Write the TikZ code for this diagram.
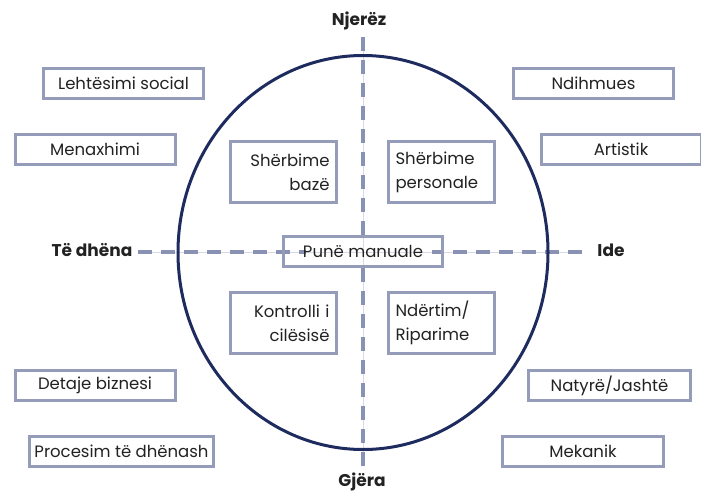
\documentclass[tikz,border=0pt]{standalone}
\usepackage{fontspec}
\setmainfont{Poppins}
\definecolor{boxline}{HTML}{959CBA}
\definecolor{axisline}{HTML}{8A92B4}
\definecolor{axisthin}{HTML}{D6D9E8}
\definecolor{ringline}{HTML}{1E2B5E}
\definecolor{textgray}{HTML}{222222}

\begin{document}
\begin{tikzpicture}[x=1pt,y=-1pt,
    boxstyle/.style={draw=boxline, line width=3pt, fill=white, minimum width=160pt, minimum height=30pt, inner sep=2pt, text=textgray, font=\fontsize{16.5}{24}\selectfont},
    quadright/.style={boxstyle, minimum width=106pt, minimum height=61pt, text width=92pt, align=right},
    quadleft/.style={boxstyle, minimum width=106pt, minimum height=61pt, text width=92pt, align=left},
    axislabel/.style={text=textgray, font=\fontsize{17}{20}\selectfont\bfseries},
    axisstyle/.style={axisline, line width=3.5pt, dash pattern=on 14pt off 9pt}]
    \useasboundingbox (0,0) rectangle (701,492);
    % axes
    \coordinate (top) at (363,37);
    \coordinate (bot) at (363,466);
    \coordinate (lft) at (138,252);
    \coordinate (rgt) at (582,252);
    \coordinate (mtop) at (363,236);
    \coordinate (mbot) at (363,267);
    \coordinate (mlft) at (306,252);
    \coordinate (mrgt) at (432,252);
    \draw[axisthin, line width=1pt] (top)--(bot) (lft)--(rgt);
    \draw[axisstyle] (top)--(mtop);
    \draw[axisstyle] (bot)--(mbot);
    \draw[axisstyle] (lft)--(mlft);
    \draw[axisstyle] (rgt)--(mrgt);
    \draw[ringline, line width=3pt] (363,252.5) ellipse [x radius=185, y radius=197];
    \node (a1) at (359,21)[axislabel]{Njerëz};
    \node (a2) at (362,482)[axislabel]{Gjëra};
    \node (a3) at (92,250)[axislabel]{Të dhëna};
    \node (a4) at (611,250)[axislabel]{Ide};
    % outer boxes
    \node (n1) at (123.5,83.5)[boxstyle]{Lehtësimi social};
    \node (n2) at (95,149.5)[boxstyle]{Menaxhimi};
    \node (n3) at (95,385.5)[boxstyle]{Detaje biznesi};
    \node (n4) at (121.5,451.5)[boxstyle, minimum width=184pt]{Procesim të dhënash};
    \node (n5) at (593.5,83.5)[boxstyle]{Ndihmues};
    \node (n6) at (621,149.5)[boxstyle]{Artistik};
    \node (n7) at (609.5,385.5)[boxstyle, minimum width=162pt]{Natyrë/Jashtë};
    \node (n8) at (583,451.5)[boxstyle, minimum width=161pt]{Mekanik};
    % inner boxes
    \node (n9) at (283.5,172)[quadright]{Shërbime\\bazë};
    \node (n10) at (441.5,172)[quadleft]{Shërbime\\personale};
    \node (n11) at (363,251.5)[boxstyle, fill=none, minimum width=159pt]{Punë manuale};
    \node (n12) at (283.5,323)[quadright]{Kontrolli i\\cilësisë};
    \node (n13) at (441.5,323)[quadleft]{Ndërtim/\\Riparime};
\end{tikzpicture}
\end{document}
